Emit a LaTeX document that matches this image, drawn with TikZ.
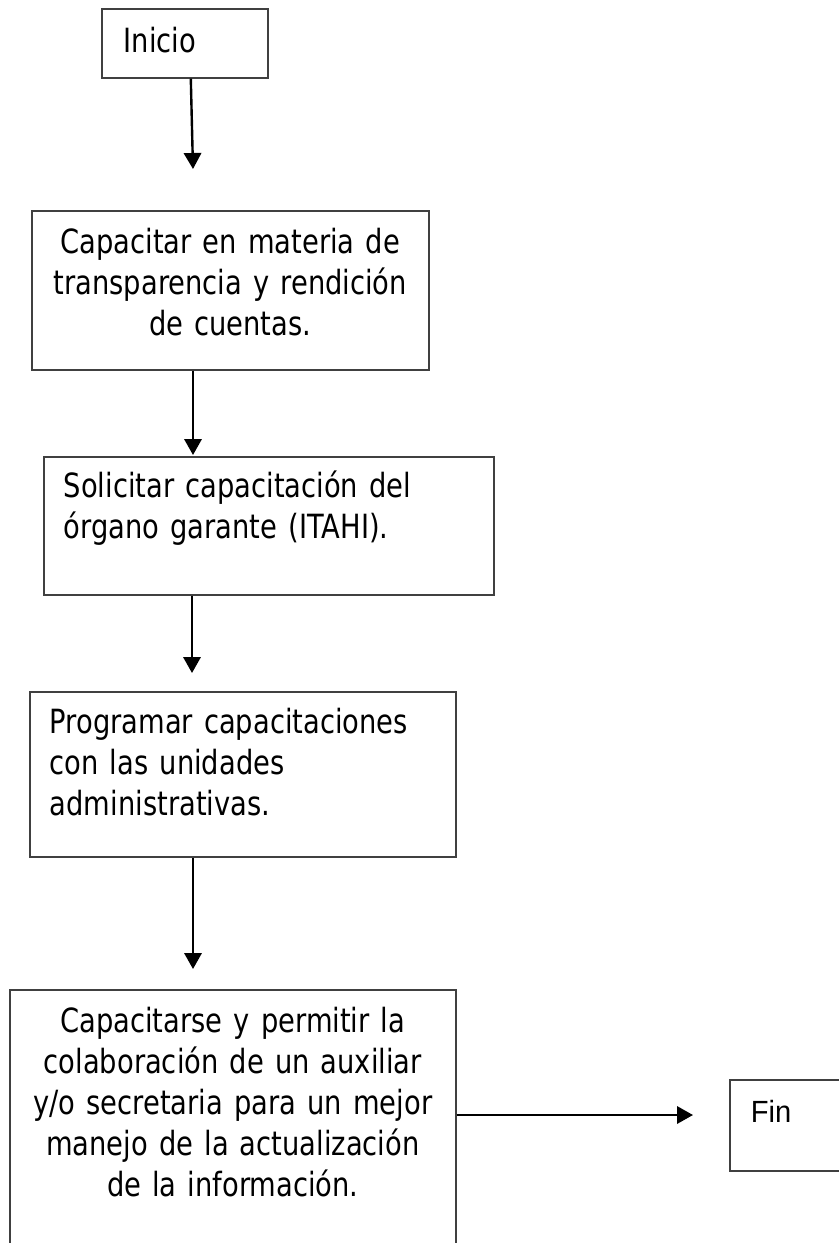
\documentclass[tikz,border=0pt]{standalone}
\usepackage{fontspec}
\setmainfont{DejaVu Sans}[FakeStretch=0.82]
\newfontfamily\finfont{Liberation Sans}[FakeStretch=0.95]
\usepackage{tikz}
\usetikzlibrary{arrows.meta}
\definecolor{bordegris}{RGB}{64, 64, 64}

\begin{document}
\begin{tikzpicture}[x=0.75pt,y=-0.75pt,
    caja/.style={draw=bordegris,line width=1.2pt,anchor=north west,inner ysep=0pt,
        font={\fontsize{25pt}{30.75pt}\selectfont}},
    flecha/.style={-{Triangle[length=12pt,width=13pt]},line width=1.8pt}]
    \clip (0,0) rectangle (839,1243);
    \node[caja,inner xsep=16.5pt,text width=91.5pt,align=left,text height=33pt,text depth=18.75pt] (inicio) at (101,8) {Inicio};
    \node[caja,inner xsep=0pt,text width=297.75pt,align=center,text height=32.25pt,text depth=87pt] (cap) at (31,210)
        {Capacitar en materia de\\transparencia y rendición\\de cuentas.};
    \node[caja,inner xsep=15pt,text width=307.5pt,align=left,text height=30.75pt,text depth=72.75pt] (sol) at (43,456)
        {Solicitar capacitación del\\órgano garante (ITAHI).};
    \node[caja,inner xsep=15pt,text width=289.5pt,align=left,text height=31.5pt,text depth=92.25pt] (prog) at (29,691)
        {Programar capacitaciones\\con las unidades\\administrativas.};
    \node[caja,inner xsep=0pt,text width=334.5pt,align=center,text height=32.25pt,text depth=180pt] (capse) at (9,989)
        {Capacitarse y permitir la\\colaboración de un auxiliar\\y/o secretaria para un mejor\\manejo de la actualización\\de la información.};
    \node[caja,inner xsep=15.75pt,text width=73.5pt,align=left,text height=32.25pt,text depth=36pt,
        font={\finfont\fontsize{23pt}{30pt}\selectfont}] (fin) at (729,1079) {Fin};
    \coordinate (p1) at (193,169);
    \coordinate (p2) at (193,455);
    \coordinate (p3) at (192,673);
    \coordinate (p4) at (193,969);
    \coordinate (p5) at (693,1115);
    \draw[flecha] ([xshift=4.5pt]inicio.south) -- (p1);
    \draw[flecha] (cap.south -| p2) -- (p2);
    \draw[flecha] (sol.south -| p3) -- (p3);
    \draw[flecha] (prog.south -| p4) -- (p4);
    \draw[flecha] (capse.east |- p5) -- (p5);
\end{tikzpicture}
\end{document}
